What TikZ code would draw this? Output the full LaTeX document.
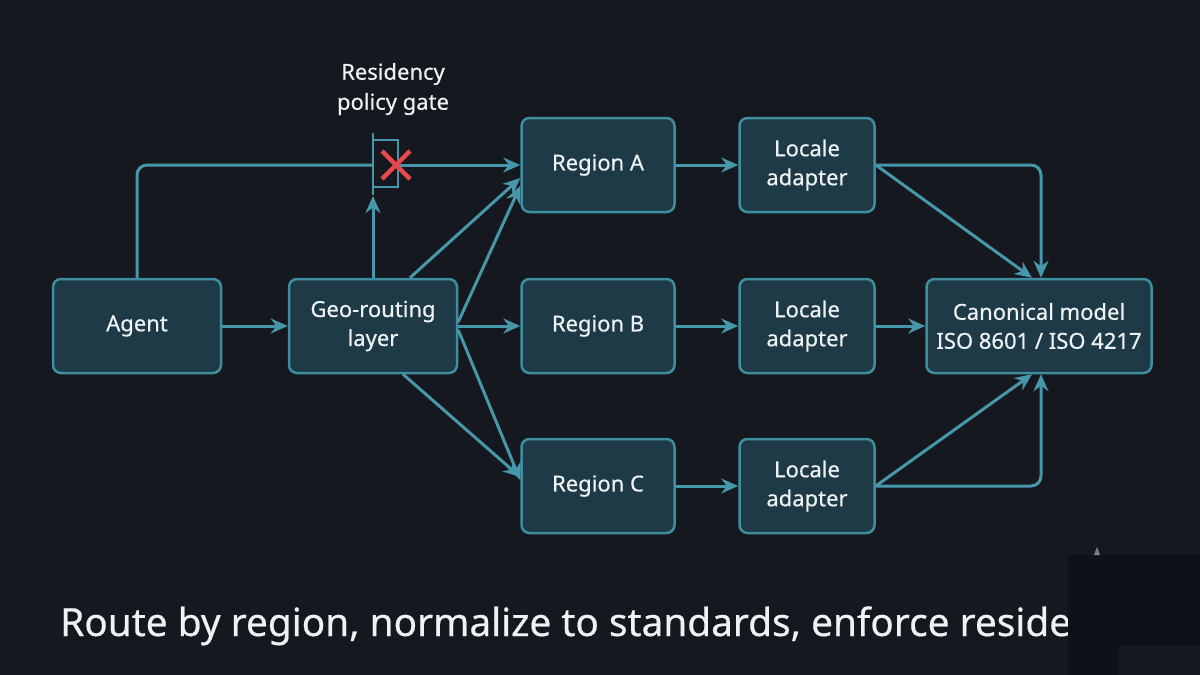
\documentclass[tikz,border=0pt]{standalone}
\usepackage{fontspec}
\setmainfont{Noto Sans}[FakeBold=0.5]
\usetikzlibrary{arrows.meta,positioning}
\definecolor{bgdark}{HTML}{15181E}
\definecolor{boxfill}{HTML}{1D3A46}
\definecolor{boxline}{HTML}{3F8EA0}
\definecolor{flowline}{HTML}{4797AB}
\definecolor{textwhite}{HTML}{EEF2F3}
\definecolor{gatered}{HTML}{E5484D}
\definecolor{cornerdark}{HTML}{0E1118}

\begin{document}
\begin{tikzpicture}[x=1pt,y=-1pt,
  box/.style={draw=boxline, fill=boxfill, line width=2.5pt, rounded corners=8pt,
    minimum height=94pt, text=textwhite, align=center,
    font=\fontsize{22}{29}\selectfont},
  flow/.style={draw=flowline, line width=3pt, -{Stealth[length=17pt,width=15pt]}},
  link/.style={draw=flowline, line width=3pt},
  gate/.style={draw=flowline, line width=2.5pt},
  cross/.style={draw=gatered, line width=4.5pt}]
  \useasboundingbox (0,0) rectangle (1200,675);
  \fill[bgdark] (0,0) rectangle (1200,675);

  \node[box, minimum width=168pt] (agent) at (137,326) {Agent};
  \node[box, minimum width=168pt] (geo) at (373,326) {Geo-routing\\layer};
  \node[box, minimum width=153pt] (rega) at (598,165) {Region A};
  \node[box, minimum width=153pt] (regb) at (598,326) {Region B};
  \node[box, minimum width=153pt] (regc) at (598,486) {Region C};
  \node[box, minimum width=135pt] (loca) at (807,165) {Locale\\adapter};
  \node[box, minimum width=135pt] (locb) at (807,326) {Locale\\adapter};
  \node[box, minimum width=135pt] (locc) at (807,486) {Locale\\adapter};
  \node[box, minimum width=225pt] (canon) at (1039,326) {Canonical model\\ISO 8601 / ISO 4217};

  \node[text=textwhite, align=center, font=\fontsize{22}{30}\selectfont] (gatelabel) at (393,89) {Residency\\policy gate};
  \coordinate (gatein) at (373,165);
  \coordinate (gatebot) at (373,196);
  \coordinate (gateout) at (398,165);

  \draw[link, rounded corners=10pt] (agent.north) |- (gatein);
  \draw[flow] (geo.north) -- (gatebot);
  \draw[flow] (gateout) -- (rega.west);
  \draw[gate] (373,133) -- (373,195);
  \draw[gate] (373,140) -- (398,140) -- (398,187) -- (373,187);
  \draw[cross] (382,151) -- (410,179) (382,179) -- (410,151);

  \draw[flow] (agent) -- (geo);
  \draw[flow] ([xshift=37pt]geo.north) -- ([yshift=-13pt]rega.west);
  \draw[flow] ([yshift=4pt]geo.east) -- ([yshift=-21pt]rega.west);
  \draw[flow] (geo) -- (regb);
  \draw[flow] ([yshift=-4pt]geo.east) -- ([yshift=6pt]regc.west);
  \draw[flow] ([xshift=30pt]geo.south) -- ([yshift=9pt]regc.west);

  \draw[flow] (rega) -- (loca);
  \draw[flow] (regb) -- (locb);
  \draw[flow] (regc) -- (locc);

  \draw[flow] (loca.east) -- ([xshift=-7pt]canon.north);
  \draw[flow, rounded corners=10pt] (loca.east) -| ([xshift=2pt]canon.north);
  \draw[flow] (locb) -- (canon);
  \draw[flow] (locc.east) -- ([xshift=-7pt]canon.south);
  \draw[flow, rounded corners=10pt] (locc.east) -| ([xshift=2pt]canon.south);

  \node[anchor=base west, text=textwhite, inner sep=0pt, font=\fontsize{38.8}{40}\selectfont] (caption) at (60,636) {Route by region, normalize to standards, enforce reside};
  \fill[cornerdark] (1068,555) rectangle (1200,675);
  \fill[bgdark] (1118,645) rectangle (1200,675);
  \fill[gray] (1094,555) -- (1100,555) -- (1097,547) -- cycle;
\end{tikzpicture}
\end{document}
